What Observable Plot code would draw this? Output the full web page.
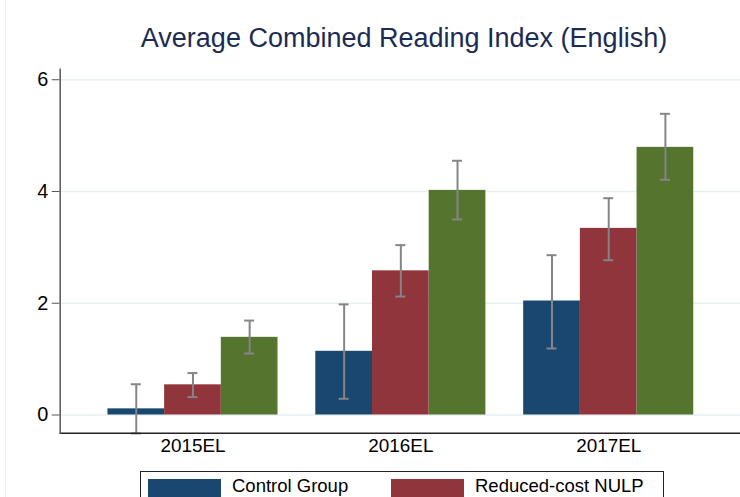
<!DOCTYPE html>
<html><head><meta charset="utf-8">
<script src="https://cdn.jsdelivr.net/npm/d3@7"></script>
<script src="https://cdn.jsdelivr.net/npm/@observablehq/plot@0.6"></script>
<style>
html,body{margin:0;padding:0;background:#fff;overflow:hidden;width:740px;height:497px}
#wrap{position:relative;width:740px;height:497px;overflow:hidden;font-family:"Liberation Sans",Arial,sans-serif}
#title{position:absolute;left:0;top:25px;width:808px;text-align:center;font-size:27px;line-height:1;color:#1c2b54;white-space:nowrap}
#chart{position:absolute;left:0;top:0}
#edge{position:absolute;left:5px;top:0;width:1px;height:497px;background:#eeeeee}
#legend{position:absolute;left:140px;top:471px;width:524px;height:40px;border:1px solid #222;box-sizing:border-box;background:#fff}
.sw{position:absolute;width:73px;height:20px}
.lab{position:absolute;font-size:18.5px;line-height:1;color:#000;white-space:nowrap}
</style></head>
<body><div id="wrap">
<div id="edge"></div>
<div id="chart"></div>
<div id="title">Average Combined Reading Index (English)</div>
<div id="legend"></div>
</div>
<script>
const years = ["2015EL", "2016EL", "2017EL"];
const groups = ["Control Group", "Reduced-cost NULP", "Full-cost NULP"];
const colors = ["#1a476f", "#90353b", "#55752f"];
const controlMean = [0.11, 1.14, 2.04];
const controlLo = [-0.33, 0.29, 1.19];
const controlHi = [0.55, 1.98, 2.86];
const reducedMean = [0.54, 2.58, 3.34];
const reducedLo = [0.32, 2.12, 2.77];
const reducedHi = [0.75, 3.04, 3.88];
const fullMean = [1.39, 4.02, 4.79];
const fullLo = [1.10, 3.50, 4.21];
const fullHi = [1.69, 4.55, 5.39];
const yTicks = [0, 2, 4, 6];

const series = [[controlMean, controlLo, controlHi], [reducedMean, reducedLo, reducedHi], [fullMean, fullLo, fullHi]];
const rows = [];
years.forEach((yr, i) => groups.forEach((g, j) => {
  rows.push({year: yr, group: g, gi: j, value: series[j][0][i], lo: series[j][1][i], hi: series[j][2][i]});
}));
const yMin = -0.325, yMax = 6.19;

// layout of band scale
const W = 744, ML = 60, MR = 0;
const pInner = 0.182, pOuter = 0.227;
const step = (W - ML - MR) / (years.length - pInner + 2 * pOuter);
const bandwidth = step * (1 - pInner);
const sub = bandwidth / groups.length;
const capHalf = 5;
const n = groups.length;

const marks = [
  Plot.ruleY(yTicks, {stroke: "#e6eff1", strokeWidth: 1.5})
];
groups.forEach((g, j) => {
  const data = rows.filter(r => r.gi === j);
  const offset = (j - (n - 1) / 2) * sub;
  const capL = j * sub + sub / 2 - capHalf, capR = (n - 1 - j) * sub + sub / 2 - capHalf;
  marks.push(
    Plot.barY(data, {x: "year", y1: 0, y2: "value", fill: "group", insetLeft: j * sub, insetRight: (n - 1 - j) * sub}),
    Plot.ruleX(data, {x: "year", y1: "lo", y2: "hi", dx: offset, stroke: "#858585", strokeWidth: 2}),
    Plot.tickY(data, {x: "year", y: "lo", stroke: "#858585", strokeWidth: 2, insetLeft: capL, insetRight: capR}),
    Plot.tickY(data, {x: "year", y: "hi", stroke: "#858585", strokeWidth: 2, insetLeft: capL, insetRight: capR})
  );
});
marks.push(
  Plot.ruleY([yMin], {stroke: "#222", strokeWidth: 1.5}),
  Plot.frame({anchor: "left", stroke: "#555", strokeWidth: 1.5})
);

const plot = Plot.plot({
  width: W, height: 470,
  marginLeft: ML, marginRight: MR, marginTop: 69, marginBottom: 35,
  style: {fontFamily: "Liberation Sans, Arial, sans-serif", fontSize: "19px", color: "#000", background: "transparent", overflow: "visible"},
  x: {domain: years, paddingInner: pInner, paddingOuter: pOuter, label: null, tickSize: 0, tickPadding: 5},
  y: {domain: [yMin, yMax], ticks: yTicks, tickSize: 8, tickPadding: 4, label: null, tickFormat: d3.format("d")},
  color: {domain: groups, range: colors},
  marks
});
document.getElementById("chart").appendChild(plot);
plot.querySelectorAll("g[aria-label='y-axis tick label']").forEach(el => el.setAttribute("font-size", 20));
plot.querySelectorAll("g[aria-label='y-axis tick']").forEach(el => el.setAttribute("stroke", "#555"));

// legend: only the first row is visible within the 497px-high window
const leg = document.getElementById("legend");
const pos = [[7, 0], [250, 0]];
pos.forEach((p, i) => {
  const sw = document.createElement("div");
  sw.className = "sw";
  sw.style.left = p[0] + "px";
  sw.style.top = (p[1] + 7) + "px";
  sw.style.background = colors[i];
  leg.appendChild(sw);
  const lab = document.createElement("div");
  lab.className = "lab";
  lab.style.left = (p[0] + 84) + "px";
  lab.style.top = (p[1] + 5) + "px";
  lab.textContent = groups[i];
  leg.appendChild(lab);
});
</script>
</body></html>
